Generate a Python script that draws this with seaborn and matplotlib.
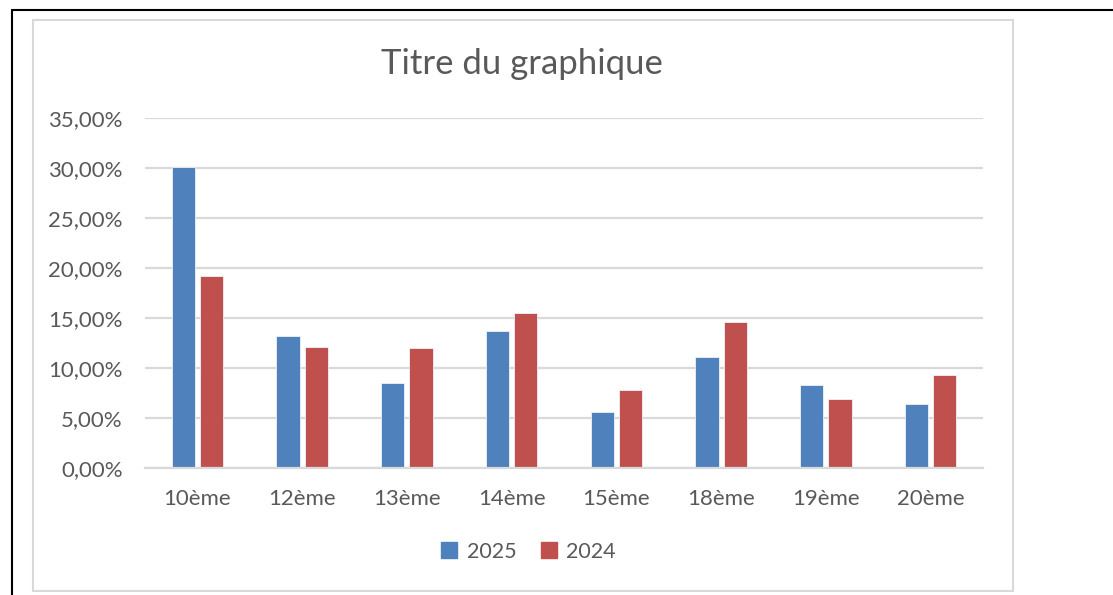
import matplotlib
matplotlib.use("Agg")
import matplotlib.pyplot as plt
from matplotlib.patches import Rectangle
from matplotlib.lines import Line2D
from matplotlib.ticker import FuncFormatter, MultipleLocator
import pandas as pd
import seaborn as sns

# data (percent)
arrondissements = ["10ème", "12ème", "13ème", "14ème", "15ème", "18ème", "19ème", "20ème"]
values_2025 = [30.1, 13.2, 8.5, 13.7, 5.6, 11.1, 8.3, 6.4]
values_2024 = [19.2, 12.1, 12.0, 15.5, 7.8, 14.6, 6.9, 9.3]
years = ["2025", "2024"]
colors = {"2025": "#4F81BD", "2024": "#C0504D"}

df = pd.DataFrame({
    "arr": arrondissements * 2,
    "year": ["2025"] * len(arrondissements) + ["2024"] * len(arrondissements),
    "value": values_2025 + values_2024,
})

sns.set_theme(style="white")
plt.rcParams["font.family"] = ["Lato", "DejaVu Sans"]
text_col = "#595959"
grid_col = "#D9D9D9"

fig = plt.figure(figsize=(11.13, 5.95), dpi=100)
ax = fig.add_axes([145 / 1113, 1 - 468 / 595, 838 / 1113, 350 / 595])

sns.barplot(data=df, x="arr", y="value", hue="year", order=arrondissements,
            hue_order=years, palette=colors, saturation=1, width=0.54, gap=0.18,
            edgecolor="#EEF2F8", linewidth=0.6, ax=ax, legend=False)

ax.set_ylim(0, 35)
ax.set_xlim(-0.5, len(arrondissements) - 0.5)
ax.yaxis.set_major_locator(MultipleLocator(5))
ax.yaxis.set_major_formatter(FuncFormatter(lambda v, p: f"{v:.2f}".replace(".", ",") + "%"))
ax.grid(axis="y", color=grid_col, linewidth=1.6)
ax.set_axisbelow(True)
for s in ["top", "right", "left"]:
    ax.spines[s].set_visible(False)
ax.spines["bottom"].set_color(grid_col)
ax.spines["bottom"].set_linewidth(1.6)
ax.set_xlabel("")
ax.set_ylabel("")
ax.tick_params(axis="both", length=0, labelsize=16, colors=text_col)
ax.tick_params(axis="y", pad=16)
ax.tick_params(axis="x", pad=15)

fig.text(522 / 1113, 1 - 64 / 595, "Titre du graphique", ha="center", va="center",
         fontsize=25, color=text_col)

handles = [Line2D([], [], marker="s", linestyle="none", markersize=12,
                  markerfacecolor=colors[y], markeredgecolor=colors[y]) for y in years]
fig.legend(handles, years, loc="center", bbox_to_anchor=(527 / 1113, 1 - 552 / 595),
           ncol=2, frameon=False, fontsize=15.5, labelcolor=text_col,
           handletextpad=0.3, columnspacing=1.0, handlelength=1.0)

# outer frames
fig.add_artist(Rectangle((33 / 1113, 1 - 591 / 595), 980 / 1113, 571 / 595,
                         transform=fig.transFigure, fill=False,
                         edgecolor=grid_col, linewidth=1.5))
fig.add_artist(Line2D([12 / 1113, 1], [1 - 10 / 595, 1 - 10 / 595],
                      transform=fig.transFigure, color="black", linewidth=1.5))
fig.add_artist(Line2D([12 / 1113, 12 / 1113], [0, 1 - 10 / 595],
                      transform=fig.transFigure, color="black", linewidth=1.5))

fig.savefig("out.png", dpi=100, facecolor="white")
